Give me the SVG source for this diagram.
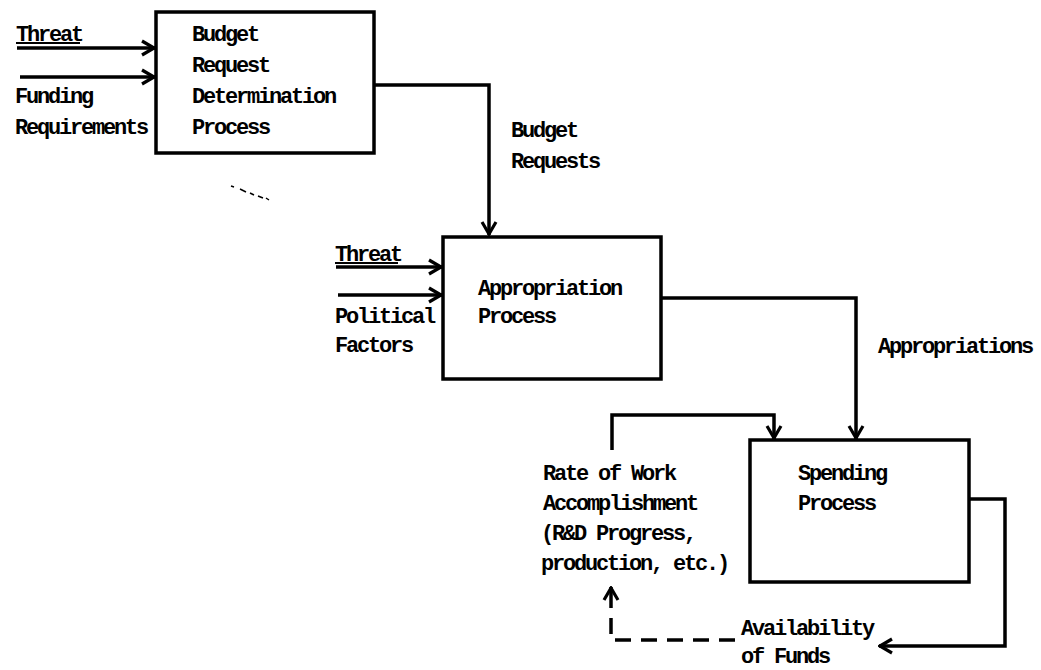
<svg xmlns="http://www.w3.org/2000/svg" width="1041" height="670" viewBox="0 0 1041 670">
  <style>
    .box { fill: #fff; stroke: #000; stroke-width: 3.5; }
    .wire { fill: none; stroke: #000; stroke-width: 3.5; stroke-linejoin: miter; }
    .dash { fill: none; stroke: #000; stroke-width: 3.5; stroke-dasharray: 16 10; }
    .lbl { font-family: "Liberation Mono", "DejaVu Sans Mono", monospace; font-weight: bold; font-size: 22px; letter-spacing: -2.2px; fill: #000; }
    .ul { stroke: #000; stroke-width: 2; }
  </style>
  <defs>
    <marker id="arrow" viewBox="0 0 16 18" refX="15" refY="9" markerWidth="16" markerHeight="18" markerUnits="userSpaceOnUse" orient="auto">
      <path d="M2,2 L14,9 L2,16" fill="none" stroke="#000" stroke-width="3.2"/>
    </marker>
  </defs>
  <rect width="1041" height="670" fill="#fff"/>

  <!-- connectors -->
  <g id="connectors">
    <!-- inputs to budget request determination -->
    <line class="wire" x1="17" y1="48" x2="155" y2="48" marker-end="url(#arrow)"/>
    <line class="wire" x1="20" y1="77" x2="155" y2="77" marker-end="url(#arrow)"/>
    <!-- budget requests -->
    <path class="wire" d="M374,85 H489 V235" marker-end="url(#arrow)"/>
    <!-- inputs to appropriation -->
    <line class="wire" x1="336" y1="267" x2="442" y2="267" marker-end="url(#arrow)"/>
    <line class="wire" x1="338" y1="295" x2="442" y2="295" marker-end="url(#arrow)"/>
    <!-- appropriations -->
    <path class="wire" d="M661,298 H856 V439" marker-end="url(#arrow)"/>
    <!-- rate of work feedback into spending -->
    <path class="wire" d="M612,450 V415 H774 V439" marker-end="url(#arrow)"/>
    <!-- availability of funds -->
    <path class="wire" d="M969,499 H1005 V646 H879" marker-end="url(#arrow)"/>
    <!-- dashed return to rate of work -->
    <path class="dash" d="M735,640 H611 V612"/>
    <line class="wire" x1="611" y1="608" x2="611" y2="587" marker-end="url(#arrow)"/>
    <!-- stray specks -->
    <path d="M231,186 l3,1 M240,189 l6,3 M250,193 l4,2 M258,196 l5,2 M266,198 l3,2" stroke="#000" stroke-width="1.5" fill="none"/>
  </g>

  <!-- free input labels -->
  <g id="inputs-1">
    <text class="lbl" x="16" y="41">Threat</text>
    <line class="ul" x1="16" y1="43" x2="80" y2="43"/>
    <text class="lbl" x="15" y="103">Funding</text>
    <text class="lbl" x="15" y="134">Requirements</text>
  </g>

  <g id="node-budget-request">
    <rect class="box" x="156" y="12" width="218" height="141"/>
    <text class="lbl" x="192" y="41">Budget</text>
    <text class="lbl" x="192" y="72">Request</text>
    <text class="lbl" x="192" y="103">Determination</text>
    <text class="lbl" x="192" y="134">Process</text>
  </g>

  <g id="label-budget-requests">
    <text class="lbl" x="511" y="137">Budget</text>
    <text class="lbl" x="511" y="168">Requests</text>
  </g>

  <g id="inputs-2">
    <text class="lbl" x="335" y="261">Threat</text>
    <line class="ul" x1="335" y1="263" x2="398" y2="263"/>
    <text class="lbl" x="335" y="323">Political</text>
    <text class="lbl" x="335" y="352">Factors</text>
  </g>

  <g id="node-appropriation">
    <rect class="box" x="443" y="237" width="218" height="142"/>
    <text class="lbl" x="478" y="295">Appropriation</text>
    <text class="lbl" x="478" y="323">Process</text>
  </g>

  <g id="label-appropriations">
    <text class="lbl" x="878" y="353">Appropriations</text>
  </g>

  <g id="node-spending">
    <rect class="box" x="750" y="440" width="219" height="142"/>
    <text class="lbl" x="798" y="480">Spending</text>
    <text class="lbl" x="798" y="510">Process</text>
  </g>

  <g id="label-rate-of-work">
    <text class="lbl" x="543" y="480">Rate of Work</text>
    <text class="lbl" x="543" y="510">Accomplishment</text>
    <text class="lbl" x="541" y="540">(R&amp;D Progress,</text>
    <text class="lbl" x="541" y="570">production, etc.)</text>
  </g>

  <g id="label-availability">
    <text class="lbl" x="741" y="635">Availability</text>
    <text class="lbl" x="741" y="663">of Funds</text>
  </g>
</svg>
